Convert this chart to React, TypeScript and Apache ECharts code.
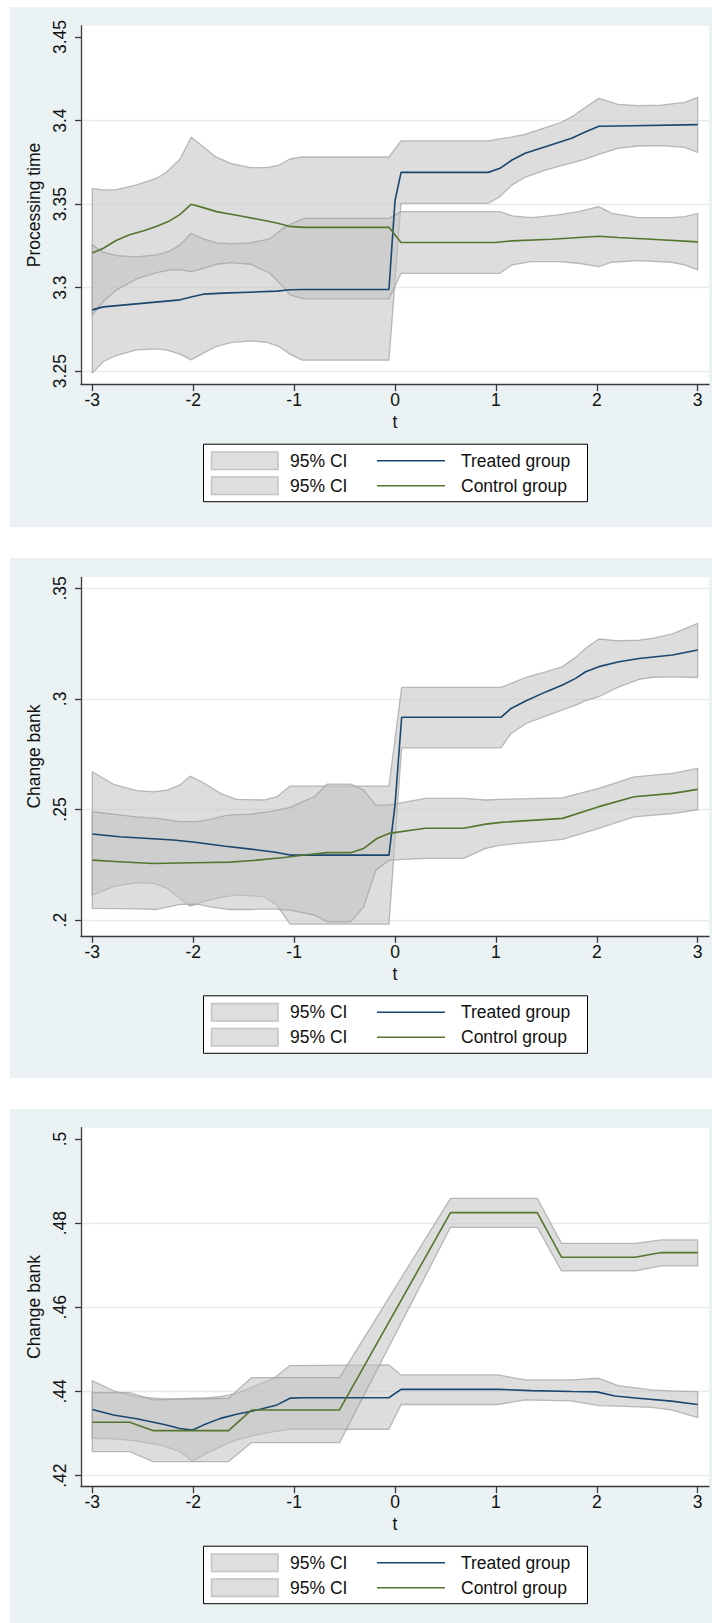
import React, { useEffect, useRef } from "react";
import * as echarts from "echarts";

// ---------- shared ticks ----------
const xTicks = [-3, -2, -1, 0, 1, 2, 3];
const xTickLabels = ["-3", "-2", "-1", "0", "1", "2", "3"];
const xTitle = "t";
const legendLabels = ["95% CI", "Treated group", "95% CI", "Control group"];

// ---------- panel 1 : Processing time ----------
const p1Title = "Processing time";
const p1YTicks = [3.25, 3.3, 3.35, 3.4, 3.45];
const p1YLabels = ["3.25", "3.3", "3.35", "3.4", "3.45"];
const p1Grid = [3.25, 3.3, 3.35, 3.4];
const p1YRange = [3.2422, 3.4568];
// [t, lower, upper]
const p1TreatedBand = [
  [-3, 3.2488, 3.3593], [-2.89, 3.2558, 3.3585], [-2.76, 3.2594, 3.3587], [-2.56, 3.2628, 3.3615],
  [-2.36, 3.2634, 3.3655], [-2.26, 3.2626, 3.3694], [-2.13, 3.2602, 3.377], [-2.02, 3.2568, 3.39],
  [-1.9, 3.2608, 3.3844], [-1.78, 3.2646, 3.3784], [-1.63, 3.2671, 3.3744], [-1.43, 3.2681, 3.3718],
  [-1.27, 3.2673, 3.3718], [-1.15, 3.2648, 3.3734], [-1.04, 3.2602, 3.377], [-0.92, 3.2566, 3.3782],
  [-0.06, 3.2566, 3.3782], [0.06, 3.3505, 3.3878], [0.925, 3.3505, 3.3878], [1.04, 3.3545, 3.389],
  [1.16, 3.3615, 3.3902], [1.29, 3.3661, 3.3918], [1.49, 3.3704, 3.3958], [1.65, 3.373, 3.399],
  [1.78, 3.3752, 3.4033], [1.88, 3.3768, 3.4077], [2.02, 3.3798, 3.4133], [2.21, 3.3834, 3.4097],
  [2.41, 3.3848, 3.4089], [2.64, 3.385, 3.4093], [2.87, 3.384, 3.4109], [3, 3.381, 3.4139],
];
const p1TreatedLine = [
  [-3, 3.2867], [-2.89, 3.2885], [-2.13, 3.2927], [-2.0, 3.2947], [-1.9, 3.2961], [-1.7, 3.2967],
  [-1.17, 3.2979], [-1.04, 3.2987], [-0.9, 3.2989], [-0.06, 3.2989], [0, 3.352], [0.06, 3.369],
  [0.925, 3.369], [1.04, 3.3714], [1.16, 3.3764], [1.29, 3.3804], [1.49, 3.3844], [1.75, 3.3894],
  [1.88, 3.393], [2.02, 3.3966], [2.21, 3.3968], [3, 3.3976],
];
const p1ControlBand = [
  [-3, 3.2837, 3.3256], [-2.89, 3.2917, 3.3212], [-2.76, 3.2987, 3.3192], [-2.56, 3.3052, 3.3184],
  [-2.36, 3.309, 3.3196], [-2.23, 3.3106, 3.322], [-2.13, 3.3108, 3.3256], [-2.02, 3.3096, 3.3324],
  [-1.9, 3.3116, 3.3292], [-1.77, 3.314, 3.3268], [-1.63, 3.315, 3.3262], [-1.43, 3.314, 3.3268],
  [-1.24, 3.3086, 3.3292], [-1.11, 3.3006, 3.3355], [-1.04, 3.2957, 3.3379], [-0.9, 3.2933, 3.3415],
  [-0.06, 3.2933, 3.3415], [0.06, 3.3086, 3.3455], [1.04, 3.3086, 3.3455], [1.16, 3.3136, 3.3429],
  [1.35, 3.3156, 3.3419], [1.62, 3.3156, 3.3435], [1.82, 3.3146, 3.3455], [2.02, 3.3126, 3.3485],
  [2.15, 3.3152, 3.3445], [2.41, 3.3162, 3.3419], [2.74, 3.3152, 3.3419], [2.87, 3.3136, 3.3425],
  [3, 3.3106, 3.3443],
];
const p1ControlLine = [
  [-3, 3.3208], [-2.89, 3.3236], [-2.76, 3.3284], [-2.63, 3.3316], [-2.49, 3.334], [-2.36, 3.3367],
  [-2.23, 3.3401], [-2.13, 3.3439], [-2.02, 3.3499], [-1.9, 3.3479], [-1.77, 3.3455], [-1.57, 3.3433],
  [-1.37, 3.3411], [-1.17, 3.3387], [-1.05, 3.3367], [-0.9, 3.3361], [-0.06, 3.3361], [0.06, 3.327],
  [0.99, 3.327], [1.16, 3.328], [1.55, 3.329], [2.02, 3.3308], [2.21, 3.33], [2.54, 3.329], [3, 3.3274],
];

// ---------- panel 2 : Change bank ----------
const p2Title = "Change bank";
const p2YTicks = [0.2, 0.25, 0.3, 0.35];
const p2YLabels = [".2", ".25", ".3", ".35"];
const p2Grid = [0.2, 0.25, 0.3, 0.35];
const p2YRange = [0.1929, 0.355];
const p2TreatedBand = [
  [-3, 0.2113, 0.2671], [-2.79, 0.2151, 0.2614], [-2.56, 0.2169, 0.2585], [-2.39, 0.2166, 0.258],
  [-2.26, 0.2143, 0.2588], [-2.13, 0.2098, 0.2611], [-2.03, 0.2063, 0.2651], [-1.9, 0.2083, 0.2621],
  [-1.73, 0.2103, 0.2573], [-1.57, 0.2113, 0.2546], [-1.3, 0.2106, 0.2543], [-1.17, 0.2068, 0.2558],
  [-1.04, 0.1982, 0.2606], [-0.06, 0.1982, 0.2606], [0.066, 0.2779, 0.3052], [1.05, 0.2779, 0.3052],
  [1.15, 0.2844, 0.307], [1.3, 0.2889, 0.3098], [1.5, 0.2923, 0.3123], [1.66, 0.295, 0.3146],
  [1.79, 0.2972, 0.3188], [1.89, 0.2992, 0.3229], [2.02, 0.301, 0.3271], [2.22, 0.3055, 0.3263],
  [2.42, 0.3088, 0.3266], [2.55, 0.3098, 0.3274], [2.75, 0.31, 0.3294], [3, 0.3097, 0.3342],
];
const p2TreatedLine = [
  [-3, 0.2389], [-2.73, 0.2377], [-2.4, 0.2368], [-2.2, 0.2362], [-2.0, 0.2353], [-1.7, 0.2335],
  [-1.43, 0.2321], [-1.17, 0.2306], [-1.04, 0.2294], [-0.06, 0.2294], [0, 0.252], [0.066, 0.2917],
  [1.05, 0.2917], [1.15, 0.2957], [1.3, 0.2992], [1.5, 0.3033], [1.66, 0.3063], [1.79, 0.3093],
  [1.89, 0.3123], [2.02, 0.3146], [2.22, 0.3168], [2.42, 0.3183], [2.75, 0.3199], [3, 0.3221],
];
const p2ControlBand = [
  [-3, 0.2053, 0.249], [-2.56, 0.2051, 0.2467], [-2.36, 0.2048, 0.246], [-2.13, 0.2071, 0.2445],
  [-1.96, 0.2072, 0.2445], [-1.83, 0.206, 0.2455], [-1.66, 0.2048, 0.2475], [-1.43, 0.2048, 0.2479],
  [-1.24, 0.2051, 0.249], [-1.04, 0.2045, 0.251], [-0.8, 0.2023, 0.2558], [-0.67, 0.1992, 0.2615],
  [-0.44, 0.1992, 0.2615], [-0.31, 0.206, 0.2588], [-0.19, 0.2226, 0.252], [-0.06, 0.2271, 0.252],
  [0.3, 0.2279, 0.255], [0.68, 0.2279, 0.255], [0.9, 0.2324, 0.2543], [1.05, 0.2339, 0.2546],
  [1.66, 0.2365, 0.2553], [2.02, 0.2415, 0.2596], [2.37, 0.2467, 0.2648], [2.75, 0.2482, 0.2663],
  [3, 0.2498, 0.2686],
];
const p2ControlLine = [
  [-3, 0.2271], [-2.73, 0.2264], [-2.4, 0.2256], [-2.0, 0.2259], [-1.63, 0.2262], [-1.37, 0.2271],
  [-1.1, 0.2283], [-0.9, 0.2294], [-0.67, 0.2305], [-0.44, 0.2305], [-0.31, 0.2324], [-0.18, 0.2369],
  [-0.06, 0.2392], [0.3, 0.2415], [0.68, 0.2415], [0.9, 0.2434], [1.05, 0.2442], [1.66, 0.246],
  [2.02, 0.2513], [2.37, 0.2558], [2.75, 0.2573], [3, 0.2591],
];

// ---------- panel 3 : Change bank ----------
const p3Title = "Change bank";
const p3YTicks = [0.42, 0.44, 0.46, 0.48, 0.5];
const p3YLabels = [".42", ".44", ".46", ".48", ".5"];
const p3Grid = [0.42, 0.44, 0.46, 0.48];
const p3YRange = [0.41748, 0.50268];
const p3TreatedBand = [
  [-3, 0.42887, 0.44257], [-2.79, 0.42871, 0.44012], [-2.56, 0.42824, 0.43877], [-2.3, 0.42713, 0.43822],
  [-2.13, 0.4257, 0.4383], [-2.01, 0.42333, 0.43838], [-1.9, 0.42491, 0.43838], [-1.73, 0.42689, 0.43877],
  [-1.57, 0.42848, 0.43956], [-1.4, 0.4295, 0.44115], [-1.2, 0.43046, 0.44313], [-1.04, 0.43101, 0.44614],
  [-0.06, 0.43101, 0.4463], [0.06, 0.4369, 0.44392], [1.02, 0.4369, 0.44392], [1.29, 0.43798, 0.44273],
  [1.75, 0.43774, 0.44273], [2.02, 0.43663, 0.44313], [2.21, 0.4365, 0.44139], [2.54, 0.4362, 0.44036],
  [2.74, 0.4356, 0.44012], [3, 0.43378, 0.43996],
];
const p3TreatedLine = [
  [-3, 0.4357], [-2.79, 0.4344], [-2.56, 0.4335], [-2.3, 0.4322], [-2.13, 0.4312], [-2.01, 0.4308],
  [-1.9, 0.432], [-1.73, 0.4336], [-1.57, 0.4346], [-1.4, 0.4354], [-1.17, 0.4368], [-1.04, 0.4384],
  [-0.9, 0.4385], [-0.06, 0.4385], [0.06, 0.4405], [1.02, 0.4405], [1.35, 0.4402], [1.75, 0.44],
  [2.0, 0.4399], [2.18, 0.4389], [2.41, 0.4384], [2.74, 0.4377], [3, 0.4369],
];
const p3ControlBand = [
  [-3, 0.4257, 0.43972], [-2.63, 0.4257, 0.43972], [-2.4, 0.42333, 0.43798], [-1.65, 0.42333, 0.43838],
  [-1.42, 0.42784, 0.44329], [-0.55, 0.42784, 0.44329], [0.55, 0.47901, 0.4859], [1.41, 0.47901, 0.4859],
  [1.65, 0.46863, 0.4752], [2.38, 0.46863, 0.4752], [2.64, 0.46982, 0.476], [3, 0.46982, 0.476],
];
const p3ControlLine = [
  [-3, 0.43267], [-2.63, 0.43267], [-2.4, 0.43069], [-1.65, 0.43069], [-1.42, 0.4356], [-0.55, 0.4356],
  [0.55, 0.4825], [1.41, 0.4825], [1.65, 0.4719], [2.38, 0.4719], [2.64, 0.473], [3, 0.473],
];

// ---------- styling / layout ----------
const FONT = "'Liberation Sans', Arial, Helvetica, sans-serif";
const BLUE = "#1a476f";
const GREEN = "#55752f";
const BAND_FILL = "rgba(194,194,194,0.56)";
const BAND_STROKE = "rgba(160,160,160,0.7)";
const PANEL_BG = "#eaf2f3";
const AXIS = "#3a3a3a";
const TXT = "#111111";
const GRID_LEFT = 81;
const GRID_W = 628;
const GRID_H = 358.5;
const X_RANGE = [-3.112, 3.112];
const FS = 17.5;

const panels = [
  { top: 25.7, title: p1Title, yTicks: p1YTicks, yLabels: p1YLabels, yGrid: p1Grid, yRange: p1YRange,
    tBand: p1TreatedBand, tLine: p1TreatedLine, cBand: p1ControlBand, cLine: p1ControlLine },
  { top: 577.3, title: p2Title, yTicks: p2YTicks, yLabels: p2YLabels, yGrid: p2Grid, yRange: p2YRange,
    tBand: p2TreatedBand, tLine: p2TreatedLine, cBand: p2ControlBand, cLine: p2ControlLine },
  { top: 1127.7, title: p3Title, yTicks: p3YTicks, yLabels: p3YLabels, yGrid: p3Grid, yRange: p3YRange,
    tBand: p3TreatedBand, tLine: p3TreatedLine, cBand: p3ControlBand, cLine: p3ControlLine },
];

const labelFor = (ticks: number[], labels: string[]) => (v: number) => {
  const i = ticks.findIndex((t) => Math.abs(t - v) < 1e-9);
  return i >= 0 ? labels[i] : "";
};

const bandRenderer = (band: number[][]) => (params: any, api: any) => {
  if (params.dataIndex !== 0) return null;
  const pts: number[][] = [];
  for (const r of band) pts.push(api.coord([r[0], r[2]]));
  for (let k = band.length - 1; k >= 0; k--) pts.push(api.coord([band[k][0], band[k][1]]));
  return {
    type: "polygon",
    shape: { points: pts },
    style: { fill: BAND_FILL, stroke: BAND_STROKE, lineWidth: 1.3, lineJoin: "round" },
  };
};

function buildOption() {
  const grid: any[] = [];
  const xAxis: any[] = [];
  const yAxis: any[] = [];
  const series: any[] = [];
  const graphic: any[] = [];

  panels.forEach((p, i) => {
    grid.push({
      left: GRID_LEFT, top: p.top, width: GRID_W, height: GRID_H,
      show: true, backgroundColor: "#ffffff", borderWidth: 0,
    });
    xAxis.push({
      type: "value", gridIndex: i, min: X_RANGE[0], max: X_RANGE[1],
      name: xTitle, nameLocation: "middle", nameGap: 29,
      nameTextStyle: { fontSize: FS, color: TXT, fontFamily: FONT },
      axisLine: { show: true, onZero: false, lineStyle: { color: AXIS, width: 1.3 } },
      axisTick: { show: true, length: 7, customValues: xTicks, lineStyle: { color: AXIS, width: 1.3 } },
      axisLabel: {
        customValues: xTicks, formatter: labelFor(xTicks, xTickLabels),
        margin: 7, fontSize: FS, color: TXT, fontFamily: FONT,
      },
      splitLine: { show: false },
    });
    // main y axis (index 2*i)
    yAxis.push({
      type: "value", gridIndex: i, min: p.yRange[0], max: p.yRange[1],
      name: p.title, nameLocation: "middle", nameRotate: 90, nameGap: 27,
      nameTextStyle: { fontSize: FS, color: TXT, fontFamily: FONT },
      axisLine: { show: true, onZero: false, lineStyle: { color: AXIS, width: 1.3 } },
      axisTick: { show: true, length: 6, customValues: p.yTicks, lineStyle: { color: AXIS, width: 1.3 } },
      axisLabel: {
        customValues: p.yTicks, formatter: labelFor(p.yTicks, p.yLabels),
        rotate: 90, align: "center", verticalAlign: "bottom",
        margin: 12, fontSize: FS, color: TXT, fontFamily: FONT,
      },
      splitLine: { show: false },
      z: 3,
    });
    // gridline-only y axis (index 2*i+1)
    yAxis.push({
      type: "value", gridIndex: i, min: p.yRange[0], max: p.yRange[1], position: "left",
      axisLine: { show: false }, axisLabel: { show: false },
      axisTick: { show: false, customValues: p.yGrid },
      splitLine: { show: true, lineStyle: { color: "#e3ecee", width: 1.3 } },
      z: 0,
    });

    const common = { xAxisIndex: i, yAxisIndex: 2 * i, silent: true };
    series.push({
      ...common, type: "custom", name: legendLabels[0], data: p.tBand,
      encode: { x: 0, y: [1, 2] }, renderItem: bandRenderer(p.tBand),
    });
    series.push({
      ...common, type: "line", name: legendLabels[1], data: p.tLine, showSymbol: false,
      lineStyle: { color: BLUE, width: 1.6 }, itemStyle: { color: BLUE },
    });
    series.push({
      ...common, type: "custom", name: legendLabels[2], data: p.cBand,
      encode: { x: 0, y: [1, 2] }, renderItem: bandRenderer(p.cBand),
    });
    series.push({
      ...common, type: "line", name: legendLabels[3], data: p.cLine, showSymbol: false,
      lineStyle: { color: GREEN, width: 1.6 }, itemStyle: { color: GREEN },
    });

    // legend box (Stata-style, 2 x 2)
    const t = p.top;
    graphic.push({
      type: "rect", shape: { x: 203.5, y: t + 418.5, width: 384, height: 57.5 },
      style: { fill: "#ffffff", stroke: "#000000", lineWidth: 1 },
    });
    [0, 1].forEach((row) => {
      const cy = t + 435 + row * 25;
      graphic.push({
        type: "rect", shape: { x: 211.5, y: cy - 8.8, width: 66.5, height: 17.5 },
        style: { fill: "#dedede", stroke: "#c4c4c4", lineWidth: 1.5 },
      });
      graphic.push({
        type: "text", x: 290, y: cy,
        style: { text: legendLabels[row * 2], fontSize: FS, fontFamily: FONT, fill: TXT, align: "left", verticalAlign: "middle" },
      });
      graphic.push({
        type: "line", shape: { x1: 377, y1: cy, x2: 445, y2: cy },
        style: { stroke: row === 0 ? BLUE : GREEN, lineWidth: 1.6 },
      });
      graphic.push({
        type: "text", x: 461, y: cy,
        style: { text: legendLabels[row * 2 + 1], fontSize: FS, fontFamily: FONT, fill: TXT, align: "left", verticalAlign: "middle" },
      });
    });
  });

  return {
    animation: false,
    backgroundColor: "transparent",
    textStyle: { fontFamily: FONT },
    grid, xAxis, yAxis, series, graphic,
  };
}

const PANEL_BG_TOPS = [6.7, 558.3, 1108.7];

export default function App() {
  const ref = useRef<HTMLDivElement>(null);
  useEffect(() => {
    if (!ref.current) return;
    const chart = echarts.init(ref.current, undefined, { renderer: "svg" });
    chart.setOption(buildOption() as any);
    return () => chart.dispose();
  }, []);
  return (
    <div style={{ position: "absolute", left: 0, top: 0, width: 712, height: 1623, background: "#ffffff", overflow: "hidden" }}>
      {PANEL_BG_TOPS.map((top, k) => (
        <div key={k} style={{ position: "absolute", left: 10, top, width: 702, height: 520, background: PANEL_BG }} />
      ))}
      <div ref={ref} style={{ position: "absolute", left: 0, top: 0, width: 712, height: 1623 }} />
    </div>
  );
}
